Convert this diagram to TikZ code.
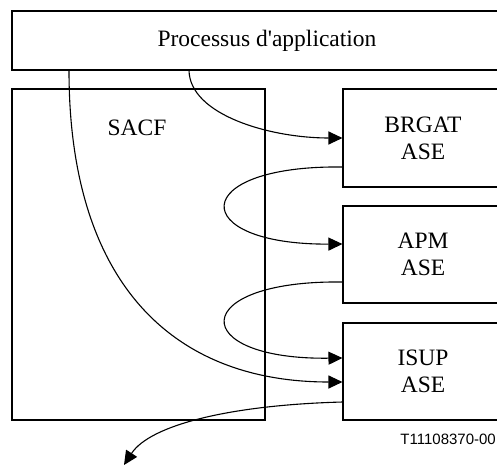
\documentclass[tikz,border=0pt]{standalone}
\usepackage{fontspec}
\setmainfont{Liberation Serif}[Ligatures=TeXOff]
\newfontfamily\labelsans{Liberation Sans}
\usetikzlibrary{arrows.meta}
\begin{document}
\begin{tikzpicture}[x=1pt,y=-1pt,
  boxnode/.style={draw,line width=1.1pt,rectangle,inner sep=0pt,align=center,
    font=\fontsize{23.5}{27}\selectfont},
  txt/.style={inner sep=0pt,font=\fontsize{23.5}{27}\selectfont},
  conn/.style={line width=1.1pt,-{Triangle[length=14pt,width=13pt]}},
  plain/.style={line width=1.1pt}]
\clip (0,0) rectangle (497,466);
\useasboundingbox (0,0) rectangle (497,466);
% boxes
\node[boxnode,minimum width=510pt,minimum height=59pt] (ap) at (267,40.5) {Processus d'application};
\node[boxnode,minimum width=253pt,minimum height=331pt] (sacf) at (138.5,254.5) {};
\node[txt] (sacft) at (137,127.5) {SACF};
\node[boxnode,minimum width=160pt,minimum height=98pt] (brgat) at (423,138) {BRGAT\\ASE};
\node[boxnode,minimum width=160pt,minimum height=97pt] (apm) at (423,254.5) {APM\\ASE};
\node[boxnode,minimum width=160pt,minimum height=97pt] (isup) at (423,371.5) {ISUP\\ASE};
\node[inner sep=0pt,anchor=east,font=\labelsans\fontsize{15}{18}\selectfont] (ref) at (496,439) {T11108370-00};
% connector end points on the box borders
\coordinate (a1) at (ap.south -| 189,0);
\coordinate (a2) at (ap.south -| 69,0);
\coordinate (b1) at (brgat.west |- 0,138);
\coordinate (b2) at (brgat.west |- 0,167);
\coordinate (p1) at (apm.west |- 0,244);
\coordinate (p2) at (apm.west |- 0,282);
\coordinate (i1) at (isup.west |- 0,358);
\coordinate (i2) at (isup.west |- 0,382);
\coordinate (i3) at (isup.west |- 0,402);
\coordinate (out) at (124,465);
% connectors
\draw[conn] (a1) .. controls (190,115) and (270,138) .. (b1);
\draw[conn] (b2) .. controls (187,165) and (187,245) .. (p1);
\draw[conn] (p2) .. controls (187,280) and (187,360) .. (i1);
\draw[conn] (a2) .. controls (69,280) and (170,382) .. (i2);
\draw[conn] (i3) .. controls (230,405) and (150,425) .. (out);
\end{tikzpicture}
\end{document}
